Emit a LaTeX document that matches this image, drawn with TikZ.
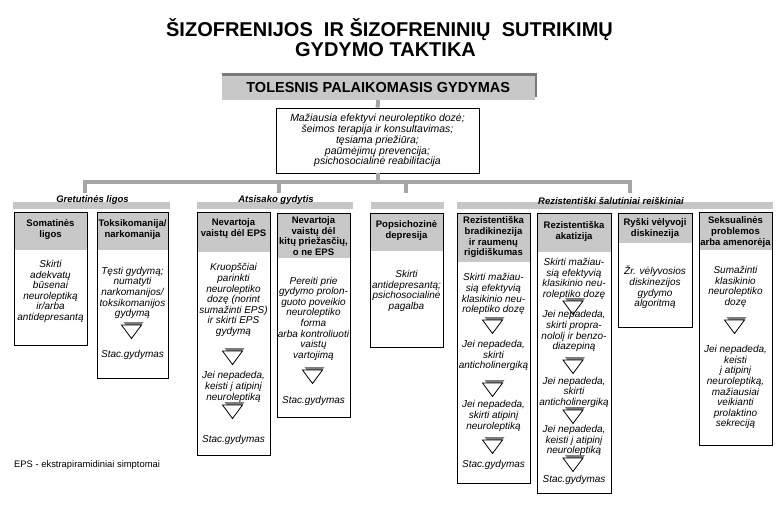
\documentclass[tikz,border=0pt]{standalone}
\usepackage{fontspec}
\setmainfont{Liberation Sans}
\definecolor{hdrgray}{RGB}{200,200,200}
\definecolor{bargray}{RGB}{198,198,198}
\definecolor{conngray}{RGB}{165,165,165}
\definecolor{shadgray}{RGB}{120,120,120}
\definecolor{trigray}{RGB}{125,125,125}
\tikzset{
  conn/.style={draw=conngray, line width=4pt},
  boxline/.style={draw=black, line width=0.9pt},
  hdr/.style={font=\bfseries\fontsize{9.5}{10.8}\selectfont, align=center, inner sep=0pt},
  bodytxt/.style={font=\itshape\fontsize{10}{10.6}\selectfont, align=center, inner sep=0pt},
  grplabel/.style={font=\bfseries\itshape\fontsize{9.5}{11}\selectfont, inner sep=0pt},
  titletxt/.style={font=\bfseries\fontsize{20}{20}\selectfont, anchor=base, inner sep=0pt},
}
\newcommand\downtri[2]{%
  \fill[trigray] (#1-8,#2-3) -- (#1+12,#2-3) -- (#1+2,#2+10.5) -- cycle;
  \filldraw[fill=white, draw=black, line width=0.8pt] (#1-10,#2) -- (#1+10,#2) -- (#1,#2+13.5) -- cycle;
}
\newcommand\colbox[5]{%
  \fill[hdrgray] (#1,#3) rectangle (#2,#4);
  \draw[boxline] (#1,#3) rectangle (#2,#5);
}
\begin{document}
\begin{tikzpicture}[x=1pt,y=-1pt]
\useasboundingbox (0,0) rectangle (783,520);
\fill[white] (0,0) rectangle (783,520);

% title
\node[titletxt] (t1) at (389.5,36.5) {ŠIZOFRENIJOS\ \ IR ŠIZOFRENINIŲ\ \ SUTRIKIMŲ};
\node[titletxt] (t2) at (385.5,56) {GYDYMO TAKTIKA};

% main box with shadow
\fill[shadgray] (222,73) rectangle (537,97);
\node[fill=hdrgray, minimum width=312.5pt, minimum height=24.5pt, inner sep=0pt,
      font=\bfseries\fontsize{14.5}{16}\selectfont] (tol) at (378.25,87.75) {TOLESNIS PALAIKOMASIS GYDYMAS};

% central box
\node[draw=black, line width=0.9pt, minimum width=203pt, minimum height=65pt, inner sep=0pt,
      align=center, font=\itshape\fontsize{10.5}{10.85}\selectfont] (ctr) at (377.5,140.5)
  {Mažiausia efektyvi neuroleptiko dozė;\\šeimos terapija ir konsultavimas;\\tęsiama priežiūra;\\paūmėjimų prevencija;\\psichosocialinė reabilitacija};

% connectors
\coordinate (hl) at (85,182);
\coordinate (hr) at (630,182);
\coordinate (j2) at (278.5,182);
\coordinate (j3) at (406,182);
\coordinate (d1) at (85,193);
\coordinate (d2) at (278.5,193);
\coordinate (d3) at (406,193);
\coordinate (d4) at (630,193);
\draw[conn] (tol.south) -- (ctr.north);
\draw[conn] (ctr.south) -- (ctr.south |- hl);
\draw[conn] (d1) -- (hl) -- (hr) -- (d4);
\draw[conn] (j2) -- (d2);
\draw[conn] (j3) -- (d3);

% group bars
\fill[bargray] (13,202) rectangle (170,209);
\fill[bargray] (197,202) rectangle (353,209);
\fill[bargray] (371,202) rectangle (444,209);
\fill[bargray] (457,202) rectangle (773,209);
\node[grplabel] (g1) at (92.5,200.5) {Gretutinės ligos};
\node[grplabel] (g2) at (276,200.5) {Atsisako gydytis};
\node[grplabel] (g3) at (611,200.5) {Rezistentiški šalutiniai reiškiniai};

% boxes
\colbox{14}{87}{212}{250}{345}
\colbox{97}{168}{212}{250}{378}
\colbox{197}{270}{212}{252}{455}
\colbox{277}{350}{213}{258}{417}
\colbox{370}{443}{213}{251}{347}
\colbox{457}{530}{213}{262}{483}
\colbox{537}{611}{213}{252}{493}
\colbox{618}{692}{213}{243}{327}
\colbox{699}{772}{212}{250}{445}

% A
\node[hdr] (ah) at (50.5,229.5) {Somatinės\\ligos};
\node[bodytxt] (ab) at (50.5,291.5) {Skirti\\adekvatų\\būsenai\\neuroleptiką\\ir/arba\\antidepresantą};
% B
\node[hdr] (bh) at (132.5,229.5) {Toksikomanija/\\narkomanija};
\node[bodytxt] (bb) at (132.5,293) {Tęsti gydymą;\\numatyti\\narkomanijos/\\toksikomanijos\\gydymą};
\downtri{131.5}{325}
\node[bodytxt] (bs) at (132.5,355) {Stac.gydymas};
% C
\node[hdr] (ch) at (233.5,228.5) {Nevartoja\\vaistų dėl EPS};
\node[bodytxt] (cb1) at (233.5,300) {Kruopščiai\\parinkti\\neuroleptiko\\dozę (norint\\sumažinti EPS)\\ir skirti EPS\\gydymą};
\downtri{232.5}{351}
\node[bodytxt] (cb2) at (233.5,387) {Jei nepadeda,\\keisti į atipinį\\neuroleptiką};
\downtri{232.5}{405}
\node[bodytxt] (cs) at (233.5,440) {Stac.gydymas};
% D
\node[hdr] (dh) at (313.5,236) {Nevartoja\\vaistų dėl\\kitų priežasčių,\\o ne EPS};
\node[bodytxt] (db) at (313.5,318.7) {Pereiti prie\\gydymo prolon-\\guoto poveikio\\neuroleptiko\\forma\\arba kontroliuoti\\vaistų\\vartojimą};
\downtri{312.5}{370}
\node[bodytxt] (ds) at (313.5,400.7) {Stac.gydymas};
% E
\node[hdr] (eh) at (406.5,230.3) {Popsichozinė\\depresija};
\node[bodytxt] (eb) at (406.5,290.8) {Skirti\\antidepresantą;\\psichosocialinė\\pagalba};
% F
\node[hdr] (fh) at (493.5,237.2) {Rezistentiška\\bradikinezija\\ir raumenų\\rigidiškumas};
\node[bodytxt] (fb1) at (493.5,294.2) {Skirti mažiau-\\sią efektyvią\\klasikinio neu-\\roleptiko dozę};
\downtri{492.5}{320}
\node[bodytxt] (fb2) at (493.5,355.8) {Jei nepadeda,\\skirti\\anticholinergiką};
\downtri{492.5}{383}
\node[bodytxt] (fb3) at (493.5,416) {Jei nepadeda,\\skirti atipinį\\neuroleptiką};
\downtri{492.5}{440}
\node[bodytxt] (fs) at (493.5,465) {Stac.gydymas};
% G
\node[hdr] (gh) at (574,231.7) {Rezistentiška\\akatizija};
\node[bodytxt] (gb1) at (574,278.8) {Skirti mažiau-\\sią efektyvią\\klasikinio neu-\\roleptiko dozę};
\downtri{573}{301}
\node[bodytxt] (gb2) at (574,331.3) {Jei nepadeda,\\skirti propra-\\nololį ir benzo-\\diazepiną};
\downtri{573}{360}
\node[bodytxt] (gb3) at (574,392.3) {Jei nepadeda,\\skirti\\anticholinergiką};
\downtri{573}{410}
\node[bodytxt] (gb4) at (574,440.8) {Jei nepadeda,\\keisti į atipinį\\neuroleptiką};
\downtri{573}{458}
\node[bodytxt] (gs) at (574,479.5) {Stac.gydymas};
% H
\node[hdr] (hh) at (655,228.8) {Ryški vėlyvoji\\diskinezija};
\node[bodytxt] (hb) at (655,287.5) {Žr. vėlyvosios\\diskinezijos\\gydymo\\algoritmą};
% I
\node[hdr] (ih) at (735.5,232.3) {Seksualinės\\problemos\\arba amenorėja};
\node[bodytxt] (ib1) at (735.5,286.8) {Sumažinti\\klasikinio\\neuroleptiko\\dozę};
\downtri{734.5}{320}
\node[bodytxt] (ib2) at (735.5,387.2) {Jei nepadeda,\\keisti\\į atipinį\\neuroleptiką,\\mažiausiai\\veikianti\\prolaktino\\sekreciją};

% footnote
\node[font=\fontsize{9.4}{11}\selectfont, anchor=west, inner sep=0pt] (fn) at (14,465) {EPS - ekstrapiramidiniai simptomai};
\end{tikzpicture}
\end{document}
